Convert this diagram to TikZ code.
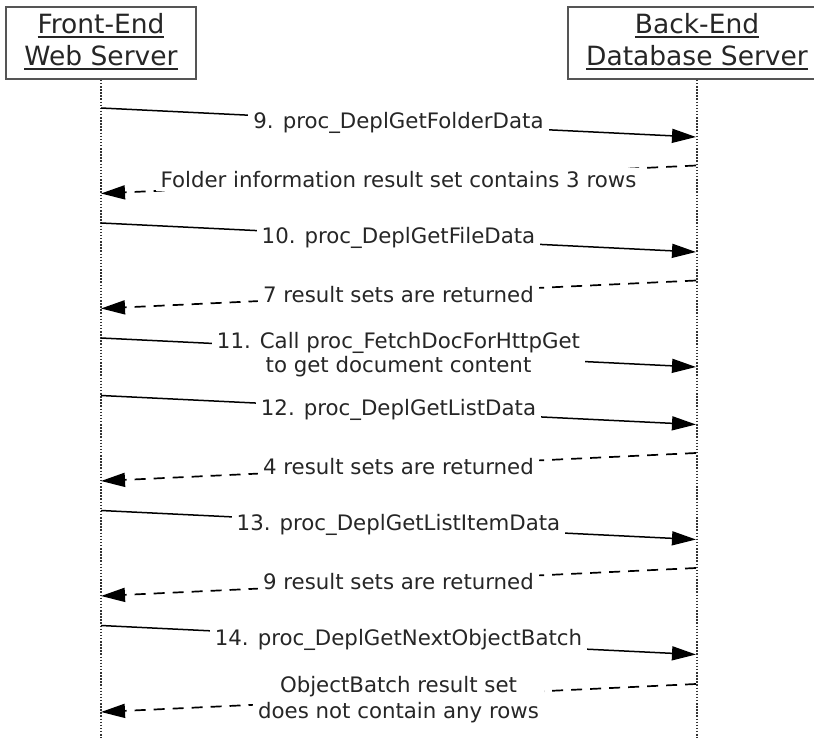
\documentclass[tikz,border=0pt]{standalone}
\usepackage{fontspec}
\setmainfont{DejaVu Sans}
\usetikzlibrary{arrows.meta}
\definecolor{ink}{HTML}{262626}
\definecolor{boxline}{HTML}{555555}
\definecolor{lifeline}{HTML}{333333}
\newcommand\ulin[1]{\vtop{\hbox{#1}\kern1.8pt\hrule height 1.4pt}}
\begin{document}
\begin{tikzpicture}[x=1pt,y=-1pt,
  actorbox/.style={draw=boxline, line width=1.8pt, fill=white, inner sep=0pt, minimum height=72pt},
  hdr/.style={font=\fontsize{26.5}{32}\selectfont, text=ink, inner sep=0pt},
  lifel/.style={draw=lifeline, line width=1.7pt, dash pattern=on 1.5pt off 1.6pt},
  call/.style={line width=1.5pt, -{Triangle[length=24pt,width=14pt]}},
  reply/.style={call, line width=1.7pt, dash pattern=on 11pt off 8pt},
  lbl/.style={font=\fontsize{21.3}{24}\selectfont, text=ink, fill=white, inner xsep=5pt, inner ysep=3pt, align=center},
]
\useasboundingbox (0,0) rectangle (814,738);
\clip (0,0) rectangle (814,738);

% actors
\node[actorbox, minimum width=190pt] (fe) at (101,43) {};
\node[actorbox, minimum width=258pt] (be) at (697,43) {};
\node[hdr, anchor=base] (fe1) at (101,34) {\ulin{Front-End}};
\node[hdr, anchor=base] (fe2) at (101,66) {\ulin{Web Server}};
\node[hdr, anchor=base] (be1) at (697,34) {\ulin{Back-End}};
\node[hdr, anchor=base] (be2) at (697,66) {\ulin{Database Server}};

% lifelines
\coordinate (feb) at (101,738);
\coordinate (beb) at (697,738);
\draw[lifel] (fe.south) -- (feb);
\draw[lifel] (be.south) -- (beb);

% message end points
\coordinate (a9) at (101,108);   \coordinate (b9) at (696,137);
\coordinate (c9) at (696,165.5); \coordinate (d9) at (101,193.5);
\coordinate (a10) at (101,223);  \coordinate (b10) at (696,252);
\coordinate (c10) at (696,280.5);\coordinate (d10) at (101,308.5);
\coordinate (a11) at (101,338);  \coordinate (b11) at (696,367);
\coordinate (a12) at (101,395.5);\coordinate (b12) at (696,424.5);
\coordinate (c12) at (696,453);  \coordinate (d12) at (101,481);
\coordinate (a13) at (101,510.5);\coordinate (b13) at (696,539.5);
\coordinate (c13) at (696,568);  \coordinate (d13) at (101,596);
\coordinate (a14) at (101,625.5);\coordinate (b14) at (696,654.5);
\coordinate (c14) at (696,684);  \coordinate (d14) at (101,712);

% messages
\draw[call]  (a9)  -- (b9)  node[lbl, midway] (t9) {9. proc\_DeplGetFolderData};
\draw[reply] (c9)  -- (d9)  node[lbl, midway] (r9) {Folder information result set contains 3 rows};
\draw[call]  (a10) -- (b10) node[lbl, midway] (t10) {10. proc\_DeplGetFileData};
\draw[reply] (c10) -- (d10) node[lbl, midway] (r10) {7 result sets are returned};
\draw[call]  (a11) -- (b11) node[lbl, midway, yshift=-2pt] (t11) {11. Call proc\_FetchDocForHttpGet\\to get document content};
\draw[call]  (a12) -- (b12) node[lbl, midway] (t12) {12. proc\_DeplGetListData};
\draw[reply] (c12) -- (d12) node[lbl, midway] (r12) {4 result sets are returned};
\draw[call]  (a13) -- (b13) node[lbl, midway] (t13) {13. proc\_DeplGetListItemData};
\draw[reply] (c13) -- (d13) node[lbl, midway] (r13) {9 result sets are returned};
\draw[call]  (a14) -- (b14) node[lbl, midway] (t14) {14. proc\_DeplGetNextObjectBatch};
\draw[reply] (c14) -- (d14) node[lbl, midway, font=\fontsize{21.3}{26}\selectfont, yshift=-2pt] (r14) {ObjectBatch result set\\does not contain any rows};
\end{tikzpicture}
\end{document}
